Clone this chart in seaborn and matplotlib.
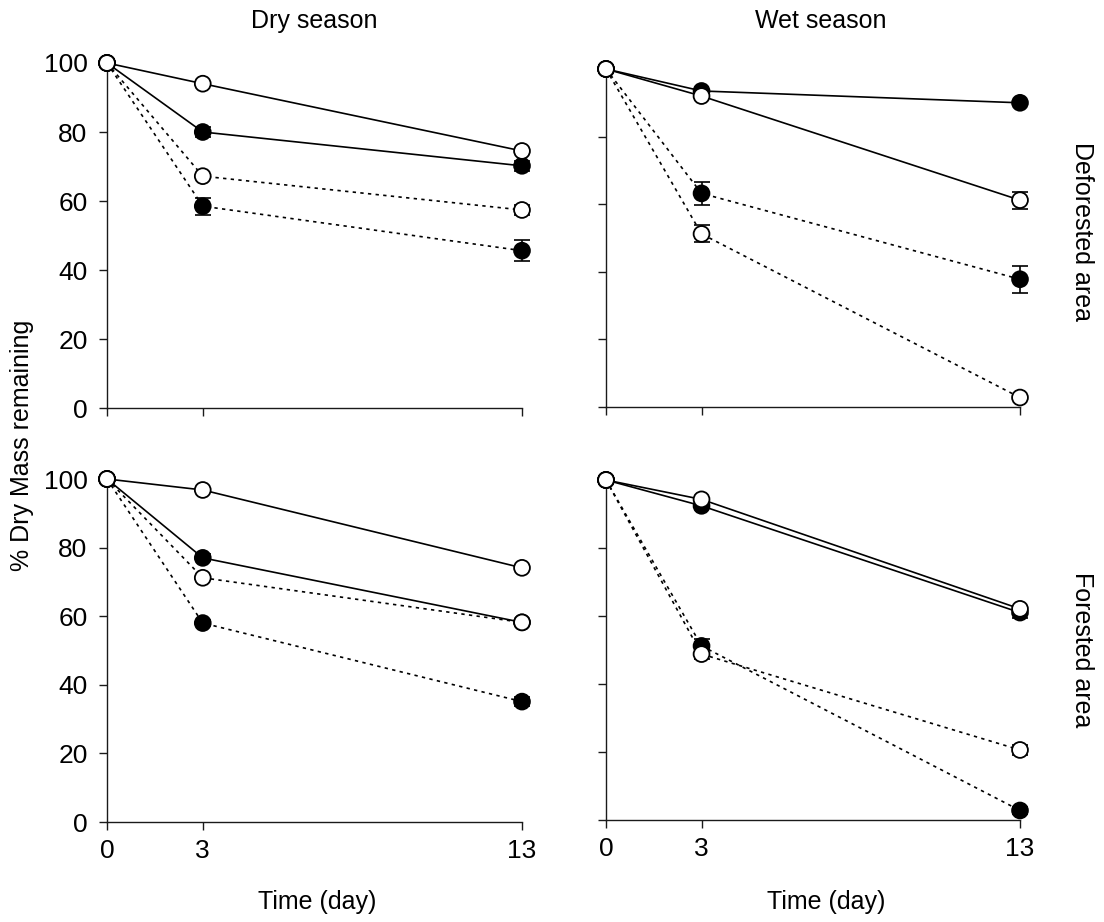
import matplotlib
matplotlib.use("Agg")
import matplotlib.pyplot as plt
import numpy as np
import pandas as pd
import seaborn as sns

# Sampling days
days = [0, 3, 13]

# Series order within each panel: (marker fill, line style)
series_fill = ["open", "filled", "open", "filled"]
series_line = ["solid", "solid", "dotted", "dotted"]

# Dry season, deforested area: mean % dry mass remaining and error
dry_def_mean = [[100, 94.0, 74.5], [100, 80.0, 70.2], [100, 67.2, 57.4], [100, 58.5, 45.6]]
dry_def_err = [[0, 0, 0], [0, 1.5, 1.5], [0, 0, 1.5], [0, 2.5, 3.0]]

# Wet season, deforested area
wet_def_mean = [[100, 92.0, 61.2], [100, 93.5, 90.0], [100, 51.2, 2.8], [100, 63.2, 37.8]]
wet_def_err = [[0, 0, 2.5], [0, 0, 0], [0, 2.5, 0], [0, 3.5, 4.0]]

# Dry season, forested area
dry_for_mean = [[100, 96.8, 74.1], [100, 77.0, 58.2], [100, 71.2, 58.2], [100, 58.0, 35.1]]
dry_for_err = [[0, 0, 0], [0, 1.0, 0], [0, 0, 0], [0, 1.0, 1.3]]

# Wet season, forested area
wet_for_mean = [[100, 94.3, 62.1], [100, 92.4, 61.0], [100, 48.8, 20.6], [100, 51.2, 2.8]]
wet_for_err = [[0, 0, 0], [0, 0, 1.5], [0, 1.5, 1.5], [0, 2.0, 1.0]]

seasons = ["Dry season", "Wet season"]
areas = ["Deforested area", "Forested area"]
panel_data = {
    ("Deforested area", "Dry season"): (dry_def_mean, dry_def_err),
    ("Deforested area", "Wet season"): (wet_def_mean, wet_def_err),
    ("Forested area", "Dry season"): (dry_for_mean, dry_for_err),
    ("Forested area", "Wet season"): (wet_for_mean, wet_for_err),
}

rows = []
for (area, season), (means, errs) in panel_data.items():
    for k, (m, e) in enumerate(zip(means, errs)):
        for d, v, s in zip(days, m, e):
            rows.append(dict(area=area, season=season, series=k, day=d, mass=v, err=s,
                             fill=series_fill[k], line=series_line[k]))
df = pd.DataFrame(rows)

sns.set_style("ticks")
plt.rcParams["font.family"] = ["Liberation Sans", "DejaVu Sans"]
plt.rcParams["text.color"] = "black"
plt.rcParams["xtick.color"] = "black"
plt.rcParams["ytick.color"] = "black"
plt.rcParams["xtick.labelcolor"] = "black"
plt.rcParams["ytick.labelcolor"] = "black"

fig = plt.figure(figsize=(11.04, 9.22), dpi=100)
W, H = 1104, 922
# axes boxes in pixels: (left, top, right, bottom)
boxes = {
    ("Deforested area", "Dry season"): (107, 63, 522, 408),
    ("Deforested area", "Wet season"): (606, 69, 1020, 407),
    ("Forested area", "Dry season"): (107, 479, 522, 822),
    ("Forested area", "Wet season"): (606, 480, 1020, 820),
}

FS_TICK = 19
FS = 18
for (area, season), (l, t, r, b) in boxes.items():
    ax = fig.add_axes([l / W, 1 - b / H, (r - l) / W, (b - t) / H])
    sub = df[(df.area == area) & (df.season == season)]

    sns.lineplot(data=sub, x="day", y="mass", style="line", units="series",
                 estimator=None, dashes={"solid": "", "dotted": (2, 2.6)},
                 color="black", linewidth=1.2, legend=False, ax=ax, zorder=1)

    eb = sub[sub.err > 0]
    ax.errorbar(eb.day, eb.mass, yerr=eb.err, fmt="none", ecolor="black",
                elinewidth=1.2, capsize=5.5, capthick=1.2, zorder=2, clip_on=False)

    pts = pd.concat([sub[sub.fill == "filled"], sub[sub.fill == "open"]])
    sns.scatterplot(data=pts, x="day", y="mass", hue="fill",
                    palette={"filled": "black", "open": "white"},
                    edgecolor="black", linewidth=1.3, s=130, legend=False,
                    ax=ax, zorder=3, clip_on=False)

    ax.set_xlim(0, 13)
    ax.set_ylim(0, 100)
    ax.set_xticks(days)
    ax.set_yticks([0, 20, 40, 60, 80, 100])
    ax.set_xlabel("")
    ax.set_ylabel("")
    sns.despine(ax=ax)
    for sp in ("left", "bottom"):
        ax.spines[sp].set_linewidth(1.0)
        ax.spines[sp].set_color("#1a1a1a")
    ax.tick_params(direction="out", length=6, width=1.0, color="#1a1a1a",
                   labelcolor="black", labelsize=FS_TICK, pad=6)
    ax.tick_params(axis="y", pad=8)
    if season == "Wet season":
        ax.tick_params(labelleft=False)
    if area == "Deforested area":
        ax.tick_params(labelbottom=False)

fig.text(314 / W, 1 - 21 / H, "Dry season", ha="center", va="center", fontsize=FS)
fig.text(821 / W, 1 - 21 / H, "Wet season", ha="center", va="center", fontsize=FS)
fig.text(317 / W, 1 - 902 / H, "Time (day)", ha="center", va="center", fontsize=FS)
fig.text(826 / W, 1 - 902 / H, "Time (day)", ha="center", va="center", fontsize=FS)
fig.text(22 / W, 1 - 445 / H, "% Dry Mass remaining", ha="center", va="center",
         rotation=90, fontsize=FS)
fig.text(1082 / W, 1 - 232 / H, "Deforested area", ha="center", va="center",
         rotation=-90, fontsize=FS)
fig.text(1082 / W, 1 - 650 / H, "Forested area", ha="center", va="center",
         rotation=-90, fontsize=FS)

fig.savefig("out.png", dpi=100, facecolor="white")
